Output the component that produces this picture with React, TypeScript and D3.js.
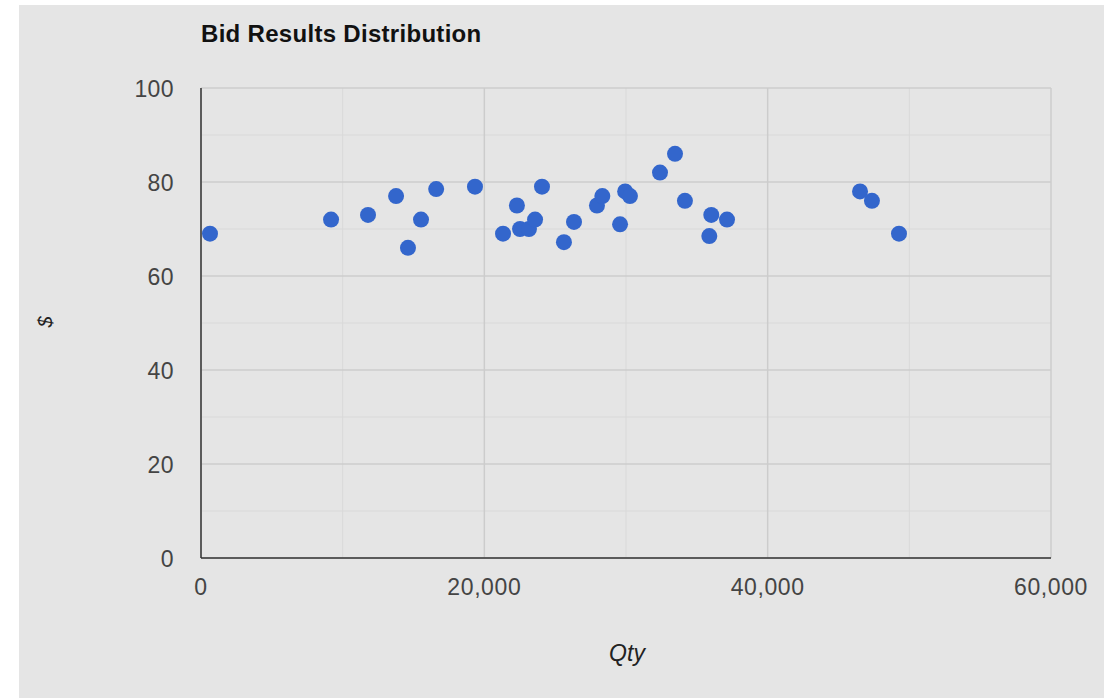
import React from "react";
import * as d3 from "d3";

const qty = [635, 9180, 11790, 13770, 14610, 15530, 16600, 19340, 21320, 22300, 22520, 23150, 23580, 24070, 25620, 26330, 27950, 28330, 29580, 29940, 30280, 32400, 33460, 34160, 35880, 36020, 37130, 46520, 47360, 49270];
const price = [69, 72, 73, 77, 66, 72, 78.5, 79, 69, 75, 70, 70, 72, 79, 67.2, 71.5, 75, 77, 71, 78, 77, 82, 86, 76, 68.5, 73, 72, 78, 76, 69];
const xTicks = [0, 20000, 40000, 60000];
const xMinor = [10000, 30000, 50000];
const yTicks = [0, 20, 40, 60, 80, 100];
const yMinor = [10, 30, 50, 70, 90];

const W = 1104, H = 698;
const L = 201, R = 1051, T = 88, B = 558;

export default function App() {
  const x = d3.scaleLinear().domain([0, 60000]).range([L, R]);
  const y = d3.scaleLinear().domain([0, 100]).range([B, T]);
  const fmt = d3.format(",");
  const font = "'Liberation Sans', Arial, sans-serif";
  return (
    <svg width={W} height={H} style={{ position: "absolute", left: 0, top: 0 }}>
      <rect x={0} y={0} width={W} height={H} fill="#ffffff" />
      <rect x={19} y={5} width={W - 19} height={H - 5} fill="#e5e5e5" />
      <text x={L} y={42} fontFamily={font} fontSize={24} letterSpacing={0.3} fontWeight="bold" fill="#111">Bid Results Distribution</text>
      {xMinor.map((v) => (
        <line key={"xm" + v} x1={x(v)} x2={x(v)} y1={T} y2={B} stroke="#d9d9d9" strokeWidth={1} />
      ))}
      {yMinor.map((v) => (
        <line key={"ym" + v} x1={L} x2={R} y1={y(v)} y2={y(v)} stroke="#d9d9d9" strokeWidth={1} />
      ))}
      {xTicks.map((v) => (
        <line key={"xg" + v} x1={x(v)} x2={x(v)} y1={T} y2={B} stroke="#cccccc" strokeWidth={1.5} />
      ))}
      {yTicks.map((v) => (
        <line key={"yg" + v} x1={L} x2={R} y1={y(v)} y2={y(v)} stroke="#cccccc" strokeWidth={1.5} />
      ))}
      <line x1={L} x2={L} y1={T} y2={B} stroke="#333" strokeWidth={1.5} />
      <line x1={L} x2={R} y1={B} y2={B} stroke="#333" strokeWidth={1.5} />
      {yTicks.map((v) => (
        <text key={"yl" + v} x={174} y={y(v) + 8.5} textAnchor="end" fontFamily={font} fontSize={23} letterSpacing={0.4} fill="#444">{v}</text>
      ))}
      {xTicks.map((v) => (
        <text key={"xl" + v} x={x(v)} y={595} textAnchor="middle" fontFamily={font} fontSize={23} letterSpacing={0.6} fill="#444">{fmt(v)}</text>
      ))}
      <text x={627} y={661} textAnchor="middle" fontFamily={font} fontSize={23} fontStyle="italic" fill="#222">Qty</text>
      <text transform="translate(52,322) rotate(-90)" textAnchor="middle" fontFamily={font} fontSize={20} fontStyle="italic" fill="#222">$</text>
      {qty.map((q, i) => (
        <circle key={"p" + i} cx={x(q)} cy={y(price[i])} r={8} fill="#3366cc" />
      ))}
    </svg>
  );
}
